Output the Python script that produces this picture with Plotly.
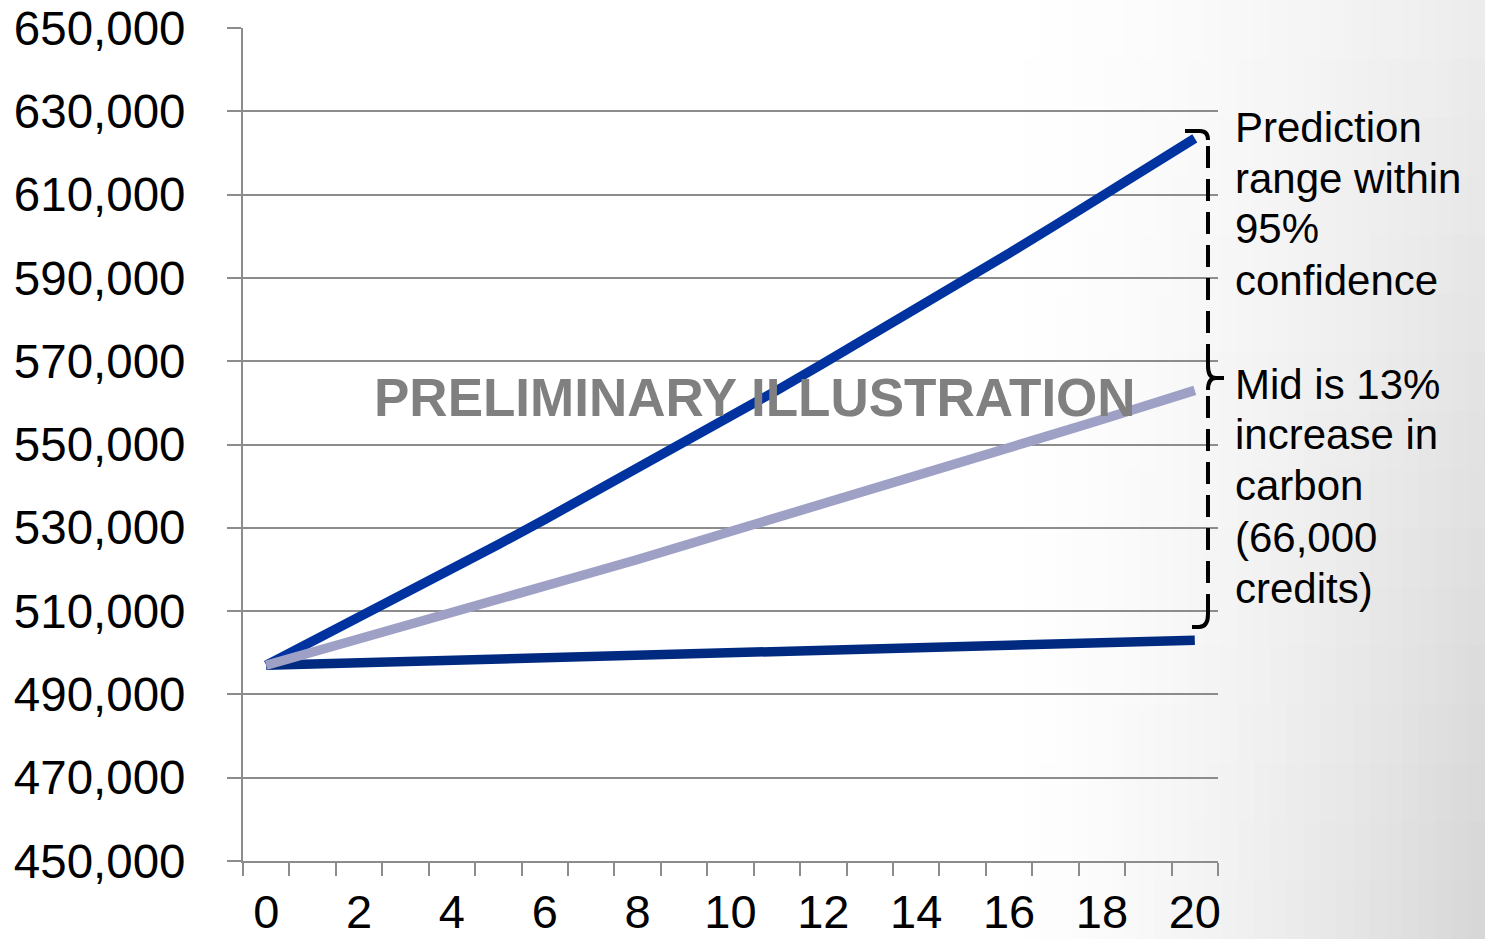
import plotly.graph_objects as go

# Projected carbon stock over 20 years
years = list(range(21))
upper = [497000, 502700, 508400, 514200, 520100, 526000, 532000, 538100, 544200, 550400,
         556700, 563000, 569500, 576000, 582500, 589200, 595900, 602700, 609600, 616500, 623500]
mid = [497000, 500100, 503200, 506400, 509600, 512700, 515900, 519200, 522400, 525700,
       529000, 532300, 535600, 539000, 542300, 545700, 549100, 552600, 556000, 559500, 563000]
lower = [497000, 497300, 497600, 497900, 498200, 498500, 498800, 499100, 499400, 499700,
         500000, 500300, 500600, 500900, 501200, 501500, 501800, 502100, 502400, 502700, 503000]

y_ticks = list(range(450000, 650001, 20000))
x_ticks = list(range(0, 21, 2))

range_note = ["Prediction", "range within", "95%", "confidence"]
mid_note = ["Mid is 13%", "increase in", "carbon", "(66,000", "credits)"]
watermark = "PRELIMINARY ILLUSTRATION"

W, H = 1485, 939
L, R, T, B = 243, 267, 28, 78
PW, PH = W - L - R, H - T - B


def px_x(px):
    return (px - L) / PW


def px_y(py):
    return (H - B - py) / PH


def pt(px, py):
    return f"{px_x(px):.5f},{px_y(py):.5f}"


FONT = "Arial, Liberation Sans, sans-serif"
GRID = "#8c8c8c"

fig = go.Figure()
fig.add_trace(go.Scatter(x=years, y=upper, mode="lines",
                         line=dict(color="#0033a0", width=9.5)))
fig.add_trace(go.Scatter(x=years, y=lower, mode="lines",
                         line=dict(color="#002a80", width=9.5)))
fig.add_trace(go.Scatter(x=years, y=mid, mode="lines",
                         line=dict(color="#9ea0c6", width=9.5)))

# soft grey shading towards the right edge of the slide
shapes = []
ncol, nrow = 30, 16
x0 = 990
for i in range(ncol):
    xa = x0 + (W - x0) * i / ncol
    xb = x0 + (W - x0) * (i + 1) / ncol
    fx = ((xa + xb) / 2 - x0) / (W - x0)
    for j in range(nrow):
        ya = H * j / nrow
        yb = H * (j + 1) / nrow
        fy = ((ya + yb) / 2) / H
        g = int(round(255 - 42 * fx ** 1.5 * (0.45 + 0.55 * fy)))
        shapes.append(dict(type="rect", xref="paper", yref="paper",
                           x0=px_x(xa), x1=px_x(xb) + 0.002,
                           y0=px_y(yb) - 0.002, y1=px_y(ya),
                           fillcolor=f"rgb({g},{g},{g})", line=dict(width=0),
                           layer="below"))

# brace spanning the prediction range: solid hooks, dashed spine
BX = 1208
brace = dict(color="black", width=4)
shapes.append(dict(type="path", xref="paper", yref="paper", line=brace,
                   path=f"M {pt(1185, 131)} L {pt(1200, 131)} Q {pt(BX, 131)} {pt(BX, 140)}"))
shapes.append(dict(type="line", xref="paper", yref="paper",
                   x0=px_x(BX), x1=px_x(BX), y0=px_y(146), y1=px_y(366),
                   line=dict(color="black", width=4, dash="22px,11px")))
shapes.append(dict(type="path", xref="paper", yref="paper", line=brace,
                   path=(f"M {pt(BX, 366)} Q {pt(BX, 378)} {pt(1216, 378)} L {pt(1224, 378)} "
                         f"M {pt(1216, 378)} Q {pt(BX, 378)} {pt(BX, 390)}")))
shapes.append(dict(type="line", xref="paper", yref="paper",
                   x0=px_x(BX), x1=px_x(BX), y0=px_y(396), y1=px_y(614),
                   line=dict(color="black", width=4, dash="22px,11px")))
shapes.append(dict(type="path", xref="paper", yref="paper", line=brace,
                   path=f"M {pt(BX, 614)} Q {pt(BX, 627)} {pt(1199, 627)} L {pt(1192, 627)}"))

annotations = [dict(text=watermark, xref="paper", yref="paper",
                    x=px_x(755), y=px_y(398), xanchor="center", yanchor="middle",
                    showarrow=False,
                    font=dict(family=FONT, size=53, color="#808080", weight="bold"))]
for k, t in enumerate(range_note):
    annotations.append(dict(text=t, xref="paper", yref="paper",
                            x=px_x(1233), y=px_y(127 + 51 * k), xanchor="left",
                            yanchor="middle", showarrow=False,
                            font=dict(family=FONT, size=42, color="black")))
for k, t in enumerate(mid_note):
    annotations.append(dict(text=t, xref="paper", yref="paper",
                            x=px_x(1233), y=px_y(384 + 51 * k), xanchor="left",
                            yanchor="middle", showarrow=False,
                            font=dict(family=FONT, size=42, color="black")))

fig.update_layout(
    width=W, height=H,
    margin=dict(l=L, r=R, t=T, b=B, pad=0, autoexpand=False),
    paper_bgcolor="white",
    plot_bgcolor="rgba(0,0,0,0)",
    showlegend=False,
    shapes=shapes,
    annotations=annotations,
    font=dict(family=FONT, color="black"),
    xaxis=dict(
        range=[-0.5, 20.5], tickmode="array", tickvals=x_ticks,
        ticktext=[str(v) for v in x_ticks],
        ticks="", showgrid=False, zeroline=False, automargin=False,
        showline=True, linecolor=GRID, linewidth=2,
        tickfont=dict(family=FONT, size=47, color="black"),
        ticklabelstandoff=9,
        minor=dict(tickmode="linear", tick0=-0.5, dtick=1, ticks="outside",
                   ticklen=13, tickwidth=2, tickcolor=GRID, showgrid=False),
    ),
    yaxis=dict(
        range=[450000, 650000], tickmode="array", tickvals=y_ticks,
        ticktext=[f"{v:,}" for v in y_ticks],
        ticks="outside", ticklen=14, tickwidth=2, tickcolor=GRID,
        showgrid=True, gridcolor=GRID, gridwidth=2, zeroline=False, automargin=False,
        showline=True, linecolor=GRID, linewidth=2,
        tickfont=dict(family=FONT, size=47.5, color="black"),
        ticklabelstandoff=32,
    ),
)

fig.write_html("out.html")
